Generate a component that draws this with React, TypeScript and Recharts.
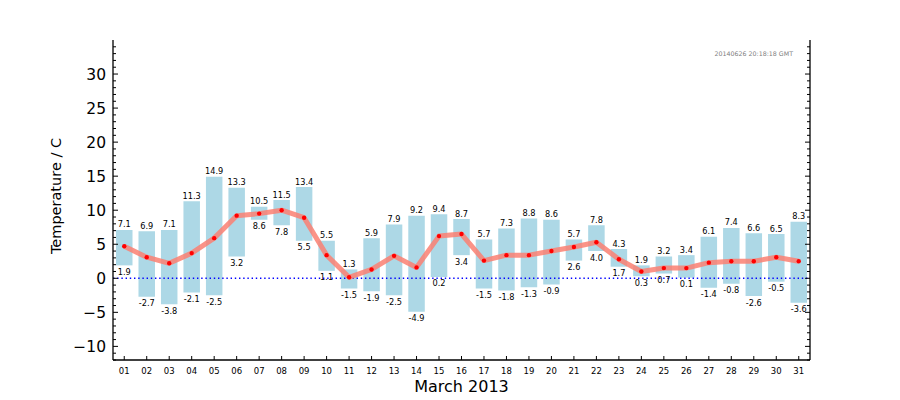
import React from 'react';
import {
  ComposedChart, Bar, Line, XAxis, YAxis, ReferenceLine, LabelList, Customized,
} from 'recharts';

const days = ['01','02','03','04','05','06','07','08','09','10','11','12','13','14','15','16','17','18','19','20','21','22','23','24','25','26','27','28','29','30','31'];
const maxTemps = [7.1, 6.9, 7.1, 11.3, 14.9, 13.3, 10.5, 11.5, 13.4, 5.5, 1.3, 5.9, 7.9, 9.2, 9.4, 8.7, 5.7, 7.3, 8.8, 8.6, 5.7, 7.8, 4.3, 1.9, 3.2, 3.4, 6.1, 7.4, 6.6, 6.5, 8.3];
const minTemps = [1.9, -2.7, -3.8, -2.1, -2.5, 3.2, 8.6, 7.8, 5.5, 1.1, -1.5, -1.9, -2.5, -4.9, 0.2, 3.4, -1.5, -1.8, -1.3, -0.9, 2.6, 4.0, 1.7, 0.3, 0.7, 0.1, -1.4, -0.8, -2.6, -0.5, -3.6];
const meanTemps = [4.7, 3.1, 2.2, 3.7, 5.9, 9.2, 9.5, 10.0, 8.9, 3.4, 0.15, 1.3, 3.3, 1.6, 6.2, 6.5, 2.6, 3.4, 3.4, 4.0, 4.6, 5.3, 2.8, 1.0, 1.5, 1.5, 2.3, 2.5, 2.5, 3.1, 2.5];
const yDomain: [number, number] = [-12, 35];
const yLabelled = [-10, -5, 0, 5, 10, 15, 20, 25, 30];
const yTicks: number[] = [];
for (let v = yDomain[0]; v < yDomain[1]; v++) yTicks.push(v);

const data = days.map((d, i) => ({
  day: d,
  max: maxTemps[i],
  min: minTemps[i],
  mean: meanTemps[i],
  range: [minTemps[i], maxTemps[i]],
}));

const FONT = 'DejaVu Sans';

const LeftTick = (props: any) => {
  const { x, y, payload } = props;
  const v = payload.value;
  const major = yLabelled.includes(v);
  return (
    <g>
      <line x1={x} x2={x + (major ? 5 : 3)} y1={y} y2={y} stroke="#000" strokeWidth={1} />
      {major && (
        <text x={x - 7} y={y} dy="0.36em" textAnchor="end" fontFamily={FONT} fontSize={15.5} fill="#000">
          {v < 0 ? '\u2212' + Math.abs(v) : String(v)}
        </text>
      )}
    </g>
  );
};

const RightTick = (props: any) => {
  const { x, y, payload } = props;
  const major = yLabelled.includes(payload.value);
  return <line x1={x} x2={x - (major ? 5 : 3)} y1={y} y2={y} stroke="#000" strokeWidth={1} />;
};

const BottomTick = (props: any) => {
  const { x, y, payload } = props;
  return (
    <g>
      <line x1={x} x2={x} y1={y} y2={y - 4} stroke="#000" strokeWidth={1} />
      <text x={x} y={y + 14} textAnchor="middle" fontFamily={FONT} fontSize={8.5} fill="#000">
        {payload.value}
      </text>
    </g>
  );
};

const TopTick = (props: any) => {
  const { x, y } = props;
  return <line x1={x} x2={x} y1={y} y2={y + 4} stroke="#000" strokeWidth={1} />;
};

const MaxLabel = (props: any) => {
  const { x, y, width, height, value } = props;
  const top = Math.min(y, y + height);
  return (
    <text x={x + width / 2} y={top - 2.5} textAnchor="middle" fontFamily={FONT} fontSize={8.2} fill="#000">
      {Number(value).toFixed(1)}
    </text>
  );
};

const MinLabel = (props: any) => {
  const { x, y, width, height, value } = props;
  const bottom = Math.max(y, y + height);
  return (
    <text x={x + width / 2} y={bottom + 9.5} textAnchor="middle" fontFamily={FONT} fontSize={8.2} fill="#000">
      {Number(value).toFixed(1)}
    </text>
  );
};

const Extras = () => (
  <g>
    <text x={793} y={55.5} textAnchor="end" fontFamily={FONT} fontSize={6.3} fill="#808080">
      20140626 20:18:18 GMT
    </text>
    <text x={461.5} y={392} textAnchor="middle" fontFamily={FONT} fontSize={16} fill="#000">
      March 2013
    </text>
    <text
      x={60.5}
      y={196}
      transform="rotate(-90 60.5 196)"
      textAnchor="middle"
      fontFamily={FONT}
      fontSize={14.5}
      fill="#000"
    >
      Temperature / C
    </text>
  </g>
);

export default function App() {
  return (
    <div style={{ position: 'absolute', left: 0, top: 0, background: '#fff' }}>
      <ComposedChart width={900} height={400} data={data} margin={{ top: 40, right: 0, bottom: 0, left: 0 }}>
        <XAxis
          dataKey="day"
          xAxisId="bottom"
          orientation="bottom"
          height={40}
          tickSize={0}
          tickMargin={0}
          tickLine={false}
          interval={0}
          axisLine={{ stroke: '#000', strokeWidth: 1.3 }}
          tick={<BottomTick />}
        />
        <XAxis
          dataKey="day"
          xAxisId="top"
          orientation="top"
          height={0}
          tickSize={0}
          tickMargin={0}
          tickLine={false}
          interval={0}
          axisLine={{ stroke: '#000', strokeWidth: 1.3 }}
          tick={<TopTick />}
        />
        <YAxis
          yAxisId="left"
          orientation="left"
          width={113}
          type="number"
          domain={yDomain}
          ticks={yTicks}
          interval={0}
          allowDataOverflow
          tickSize={0}
          tickMargin={0}
          tickLine={false}
          axisLine={{ stroke: '#000', strokeWidth: 1.3 }}
          tick={<LeftTick />}
        />
        <YAxis
          yAxisId="right"
          orientation="right"
          width={90}
          type="number"
          domain={yDomain}
          ticks={yTicks}
          interval={0}
          allowDataOverflow
          tickSize={0}
          tickMargin={0}
          tickLine={false}
          axisLine={{ stroke: '#000', strokeWidth: 1.3 }}
          tick={<RightTick />}
        />
        <Bar
          dataKey="range"
          xAxisId="bottom"
          yAxisId="left"
          fill="#add8e6"
          barSize={16.5}
          isAnimationActive={false}
        >
          <LabelList dataKey="max" content={<MaxLabel />} />
          <LabelList dataKey="min" content={<MinLabel />} />
        </Bar>
        <ReferenceLine
          y={0}
          xAxisId="bottom"
          yAxisId="left"
          stroke="#0000ff"
          strokeWidth={1.4}
          strokeDasharray="1.4 2.8"
        />
        <Line
          dataKey="mean"
          xAxisId="bottom"
          yAxisId="left"
          stroke="#fa8072"
          strokeOpacity={0.85}
          strokeWidth={5}
          strokeLinejoin="round"
          dot={{ r: 2.2, fill: '#ff0000', stroke: 'none', strokeWidth: 0 }}
          activeDot={false}
          isAnimationActive={false}
        />
        <Customized component={Extras} />
      </ComposedChart>
    </div>
  );
}
